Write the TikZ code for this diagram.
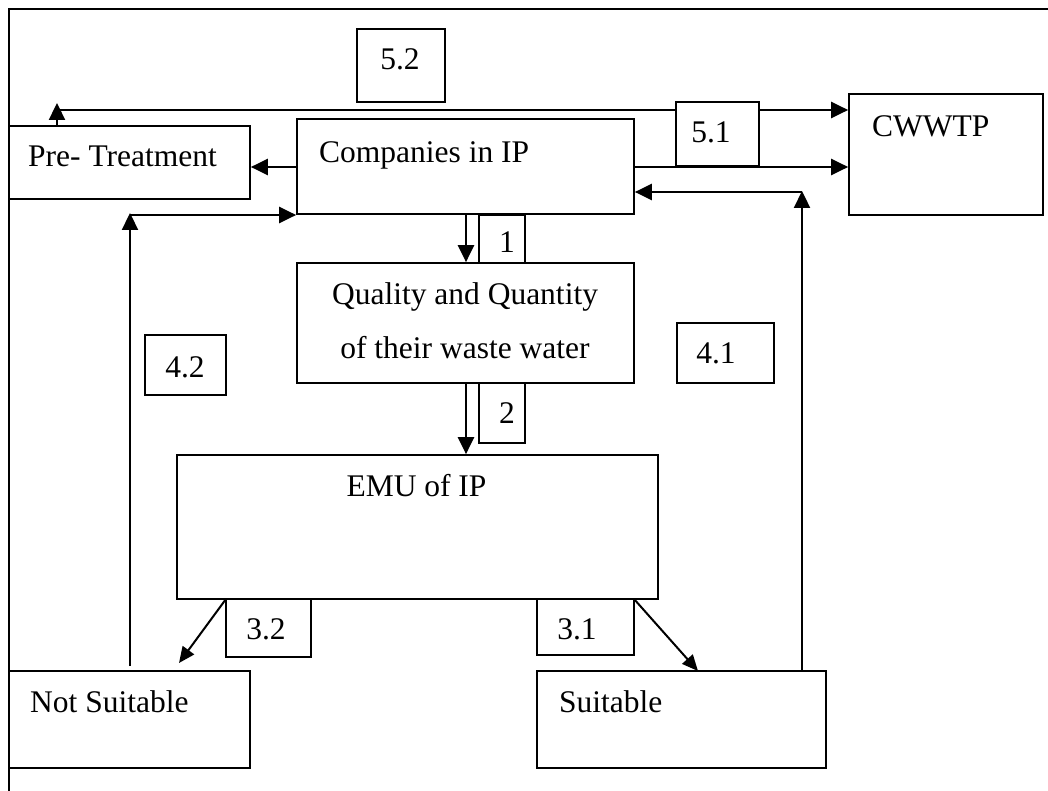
\documentclass[tikz,border=0pt]{standalone}
\usepackage{fontspec}
\setmainfont{Liberation Serif}
\usetikzlibrary{arrows.meta,backgrounds}
\tikzset{
 box/.style={draw, fill=white, line width=1.7pt, inner sep=0pt, anchor=center},
 arr/.style={line width=2.3pt, -{Triangle[length=17pt,width=16pt]}},
 darr/.style={line width=2pt, -{Triangle[length=16pt,width=14pt]}},
 txt/.style={inner sep=0pt, font=\fontsize{31.5}{53}\selectfont},
 frame/.style={line width=1.7pt},
}
\begin{document}
\begin{tikzpicture}[x=1pt,y=-1pt]
\useasboundingbox (0,0) rectangle (1048,791);
% main boxes
\node[box, minimum width=241pt, minimum height=73pt] (pre) at (129.5,162.5) {};
\node[box, minimum width=337pt, minimum height=95pt] (comp) at (465.5,166.5) {};
\node[box, minimum width=194pt, minimum height=121pt] (cww) at (946,154.5) {};
\node[box, minimum width=337pt, minimum height=120pt] (qual) at (465.5,323) {};
\node[box, minimum width=481pt, minimum height=144pt] (emu) at (417.5,527) {};
\node[box, minimum width=241pt, minimum height=97pt] (nots) at (129.5,719.5) {};
\node[box, minimum width=289pt, minimum height=97pt] (suit) at (681.5,719.5) {};
% number boxes
\node[box, minimum width=88pt, minimum height=73pt] (b52) at (401,65.5) {};
\node[box, minimum width=83pt, minimum height=64pt] (b51) at (717.5,134) {};
\node[box, minimum width=46pt, minimum height=48pt] (b1) at (502,239) {};
\node[box, minimum width=46pt, minimum height=60pt] (b2) at (502,413) {};
\node[box, minimum width=81pt, minimum height=60pt] (b42) at (185.5,365) {};
\node[box, minimum width=97pt, minimum height=60pt] (b41) at (725.5,353) {};
\node[box, minimum width=85pt, minimum height=58pt] (b32) at (268.5,628) {};
\node[box, minimum width=97pt, minimum height=56pt] (b31) at (585.5,627) {};
% texts
\node[txt, anchor=base west] (tpre) at (28,167) {Pre- Treatment};
\node[txt, anchor=base west] (tcomp) at (319,163) {Companies in IP};
\node[txt, anchor=base west] (tcww) at (872,137) {CWWTP};
\node[txt, anchor=base] (tq1) at (465,305) {Quality and Quantity};
\node[txt, anchor=base] (tq2) at (465,358) {of their waste water};
\node[txt, anchor=base] (temu) at (416.5,496) {EMU of IP};
\node[txt, anchor=base west] (tns) at (30,712) {Not Suitable};
\node[txt, anchor=base west] (ts) at (559,712) {Suitable};
\node[txt, anchor=base] (t52) at (400,70) {5.2};
\node[txt, anchor=base] (t51) at (711,143) {5.1};
\node[txt, anchor=base] (t1) at (507,253) {1};
\node[txt, anchor=base] (t2) at (507,423) {2};
\node[txt, anchor=base] (t42) at (185,377) {4.2};
\node[txt, anchor=base] (t41) at (716,363) {4.1};
\node[txt, anchor=base] (t32) at (266,639) {3.2};
\node[txt, anchor=base] (t31) at (577,639) {3.1};
% connector coordinates
\coordinate (p1) at (57,126);
\coordinate (p2) at (57,110);
\coordinate (p2u) at (57,103);
\coordinate (s1) at (802,671);
\coordinate (s2) at (802,192);
\coordinate (s2u) at (802,191);
\coordinate (n1) at (130,666);
\coordinate (n2) at (130,215);
\coordinate (n2u) at (130,213);
\coordinate (e1) at (226,599);
\coordinate (e1t) at (179,663);
\coordinate (e2) at (634,599);
\coordinate (e2t) at (698,671);
\begin{pgfonlayer}{background}
\draw[frame] (1048,9) -- (9,9) -- (9,791);
\draw[arr] (p1) -- (p2u);
\draw[arr] (p2) -- (p2 -| cww.west);
\draw[arr] (comp.west |- 0,167) -- (pre.east |- 0,167);
\draw[arr] (comp.east |- 0,167) -- (cww.west |- 0,167);
\draw[arr] (s1) -- (s2u);
\draw[arr] (s2) -- (s2 -| comp.east);
\draw[arr] (n1) -- (n2u);
\draw[arr] (n2) -- (comp.south west |- 0,215);
\draw[arr] (comp.south -| 466,0) -- (qual.north -| 466,0);
\draw[arr] (qual.south -| 466,0) -- (emu.north -| 466,0);
\draw[darr] (e1) -- (e1t);
\draw[darr] (e2) -- (e2t);
\end{pgfonlayer}
\end{tikzpicture}
\end{document}
